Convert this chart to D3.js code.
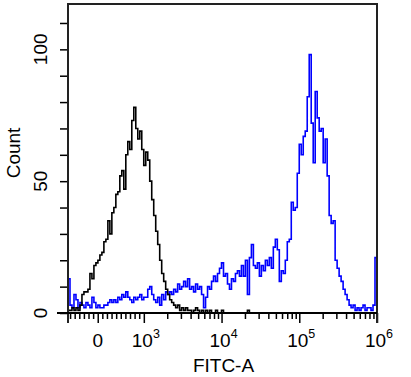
<!DOCTYPE html>
<html>
<head>
<meta charset="utf-8">
<script src="https://cdn.jsdelivr.net/npm/d3@7"></script>
<style>
body { margin: 0; background: #fff; }
</style>
</head>
<body>
<div id="main"></div>
<script>
// histogram counts, one value per display channel (155 channels across the axis)
var blackCounts = [1,1,2,1,2,1,3,7,8,8,9,15,13,18,19,20,22,23,27,28,
    35,30,38,40,45,46,52,54,47,60,65,62,73,78,70,66,69,62,56,61,
    58,50,43,37,31,26,20,15,12,9,7,5,4,3,2,3,1,2,1,2,
    1,1,0,1,2,1,0,1,0,1,0,1,0,0,1,0,0,1,0,0,
    0,0,0,0,0,0,0,0,0,0,1,0,0,0,0,0,0,0,0,0,
    0,0,0,0,0,0,0,0,0,0,0,0,0,0,0,0,0,0,0,0,
    0,0,0,0,0,0,0,0,0,0,0,0,0,0,0,0,0,0,0,0,
    0,0,0,0,0,0,0,0,0,0,0,0,0,0,0];
var blueCounts = [13,3,2,7,5,2,4,3,2,4,3,2,6,4,2,3,2,2,3,3,
    4,5,4,5,4,6,5,7,6,8,6,5,4,6,5,6,7,5,6,6,
    9,10,7,5,4,6,3,7,5,8,7,8,7,9,8,11,9,10,12,10,
    13,9,10,8,11,9,10,7,2,6,10,9,12,14,12,15,17,19,14,15,
    11,9,13,12,15,16,14,18,14,20,7,21,26,18,17,19,14,18,16,20,
    18,21,17,25,28,24,12,16,15,20,27,28,42,39,40,53,64,60,67,69,
    82,98,72,57,84,74,69,70,57,66,52,37,34,35,20,17,14,12,9,7,
    5,3,2,3,1,2,1,2,3,1,2,2,1,3,21];

var xMajorTicks = [0, 1e3, 1e4, 1e5, 1e6];
var xMajorLabels = [["0", ""], ["10", "3"], ["10", "4"], ["10", "5"], ["10", "6"]];
var yTicks = [0, 10, 20, 30, 40, 50, 60, 70, 80, 90, 100, 110];
var yLabelTicks = [0, 50, 100];
var xDomain = [-645, 1e6];
var yDomain = [0, 117.2];

var ctx = {
    w: 411,
    h: 377,
    left: 68,
    right: 377,
    top: 4,
    bottom: 313,
    font: '"Liberation Sans", Arial, sans-serif'
};

// display transform : linear up to 1000, log above (like the cytometry biex axis)
var LIN = 1000, LIN_DEC = 0.593;
function disp(v) {
    return v <= LIN ? LIN_DEC * v / LIN : LIN_DEC + Math.log10(v / LIN);
}

// minor ticks
var xMinorTicks = [];
for (var k = 1; k <= 6; k++) xMinorTicks.push(-100 * k);
for (k = 1; k <= 9; k++) xMinorTicks.push(100 * k);
[1e3, 1e4, 1e5].forEach(function(d) {
    for (var m = 2; m <= 9; m++) xMinorTicks.push(m * d);
});

var svg = d3.select("#main").append("svg")
    .attr("width", ctx.w)
    .attr("height", ctx.h)
    .style("font-family", ctx.font);

var x = d3.scaleLinear()
    .domain([disp(xDomain[0]), disp(xDomain[1])])
    .range([ctx.left, ctx.right]);
var y = d3.scaleLinear()
    .domain(yDomain)
    .range([ctx.bottom, ctx.top]);

// histograms, channels evenly spaced in display space
var drawHist = function(counts, color) {
    var t0 = x.domain()[0], t1 = x.domain()[1];
    var dt = (t1 - t0) / counts.length;
    var pts = [[t0, 0]];
    counts.forEach(function(c, i) { pts.push([t0 + i * dt, c]); });
    pts.push([t1, counts[counts.length - 1]]);
    pts.push([t1, 0]);
    var line = d3.line()
        .x(function(d) { return x(d[0]); })
        .y(function(d) { return y(d[1]); })
        .curve(d3.curveStepAfter);
    svg.append("path")
        .attr("d", line(pts))
        .attr("fill", "none")
        .attr("stroke", color)
        .attr("stroke-width", 1.6);
};
drawHist(blueCounts, "#0000ff");
drawHist(blackCounts, "#000");

// x axis ticks
var minorAxis = d3.axisBottom(x)
    .tickValues(xMinorTicks.map(disp))
    .tickSize(6)
    .tickFormat("");
var majorAxis = d3.axisBottom(x)
    .tickValues(xMajorTicks.map(disp))
    .tickSize(10)
    .tickFormat("");
[minorAxis, majorAxis].forEach(function(ax) {
    var g = svg.append("g")
        .attr("transform", "translate(0," + ctx.bottom + ")")
        .call(ax);
    g.select(".domain").remove();
    g.selectAll("line").attr("stroke", "#000").attr("stroke-width", 1.5);
});

// x labels with superscripts
xMajorTicks.forEach(function(v, i) {
    var t = svg.append("text")
        .attr("x", x(disp(v)) + (i > 0 ? 2 : 0))
        .attr("y", 347)
        .attr("text-anchor", "middle")
        .attr("font-size", 19)
        .attr("fill", "#000");
    t.append("tspan").text(xMajorLabels[i][0]);
    if (xMajorLabels[i][1]) {
        t.append("tspan")
            .attr("dy", -9)
            .attr("font-size", 12.5)
            .text(xMajorLabels[i][1]);
    }
});

// y axis ticks
var yg = svg.append("g")
    .attr("transform", "translate(" + ctx.left + ",0)")
    .call(d3.axisLeft(y).tickValues(yTicks).tickSize(8).tickFormat(""));
yg.select(".domain").remove();
yg.selectAll("line").attr("stroke", "#000").attr("stroke-width", 1.5);

yLabelTicks.forEach(function(v) {
    svg.append("text")
        .attr("transform", "translate(47," + y(v) + ") rotate(-90)")
        .attr("text-anchor", "middle")
        .attr("font-size", 19)
        .attr("fill", "#000")
        .text(v);
});

// frame : left, top, right, and the bottom axis line
svg.append("path")
    .attr("d", "M" + ctx.left + "," + (ctx.bottom + 10) + "V" + ctx.top + "H" + ctx.right + "V" + (ctx.bottom + 10))
    .attr("fill", "none")
    .attr("stroke", "#222")
    .attr("stroke-width", 2);
svg.append("line")
    .attr("x1", ctx.left - 11).attr("x2", ctx.right)
    .attr("y1", ctx.bottom).attr("y2", ctx.bottom)
    .attr("stroke", "#000")
    .attr("stroke-width", 2);

// axis titles
svg.append("text")
    .attr("x", (ctx.left + ctx.right) / 2 + 1)
    .attr("y", 372)
    .attr("text-anchor", "middle")
    .attr("font-size", 19)
    .attr("fill", "#000")
    .text("FITC-A");
svg.append("text")
    .attr("transform", "translate(20,153) rotate(-90)")
    .attr("text-anchor", "middle")
    .attr("font-size", 19)
    .attr("fill", "#000")
    .text("Count");
</script>
</body>
</html>
